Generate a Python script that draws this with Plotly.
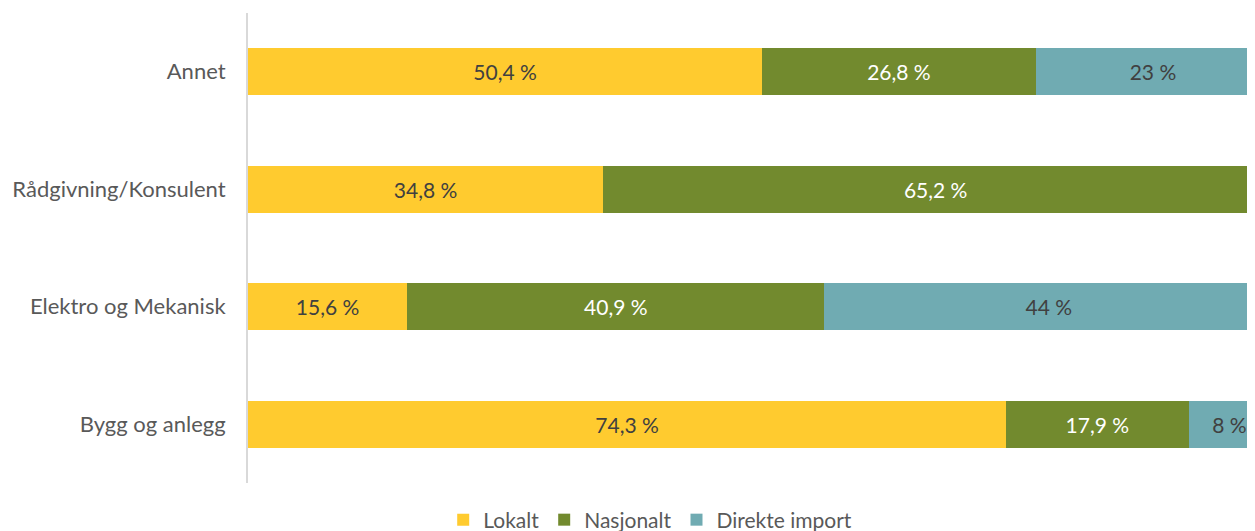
import plotly.graph_objects as go

categories = ["Annet", "Rådgivning/Konsulent", "Elektro og Mekanisk", "Bygg og anlegg"]
lokalt = [50.4, 34.8, 15.6, 74.3]
nasjonalt = [26.8, 65.2, 40.9, 17.9]
direkte_import = [23, None, 44, 8]
series_names = ["Lokalt", "Nasjonalt", "Direkte import"]
colors = ["#FFCB2F", "#728A2E", "#70ABB2"]
text_colors = ["#404040", "#FFFFFF", "#404040"]


def fmt(v):
    if v is None:
        return ""
    return f"{v:g}".replace(".", ",") + " %"


FONT = "Lato, 'Open Sans', sans-serif"
fig = go.Figure()
for name, vals, c, tc in zip(series_names, [lokalt, nasjonalt, direkte_import], colors, text_colors):
    fig.add_trace(go.Bar(
        y=categories, x=vals, name=name, orientation="h",
        marker=dict(color=c, line=dict(width=0)),
        text=[fmt(v) for v in vals], textposition="inside",
        insidetextanchor="middle", constraintext="none",
        textfont=dict(color=tc, size=21, family=FONT),
        cliponaxis=True,
    ))

# page has an 8px body margin, so the figure is offset by 8px
fig.update_layout(
    barmode="stack", bargap=0.6,
    width=1247, height=523,
    margin=dict(l=240, r=0, t=5, b=48, autoexpand=False),
    plot_bgcolor="white", paper_bgcolor="white",
    font=dict(family=FONT, size=21, color="#595959"),
    showlegend=True,
    legend=dict(orientation="h", xref="container", x=0.515, xanchor="center",
                yref="container", y=0.021, yanchor="middle",
                font=dict(size=21, color="#595959"), traceorder="normal",
                itemwidth=30),
    xaxis=dict(range=[0, 98.7], showgrid=False, showticklabels=False, zeroline=False,
               showline=False, fixedrange=True),
    yaxis=dict(autorange="reversed", showgrid=False, showline=True, linecolor="#D9D9D9",
               linewidth=2, ticks="outside", ticklen=16, tickcolor="rgba(0,0,0,0)",
               tickfont=dict(size=22, color="#595959")),
)
fig.write_html("out.html")
